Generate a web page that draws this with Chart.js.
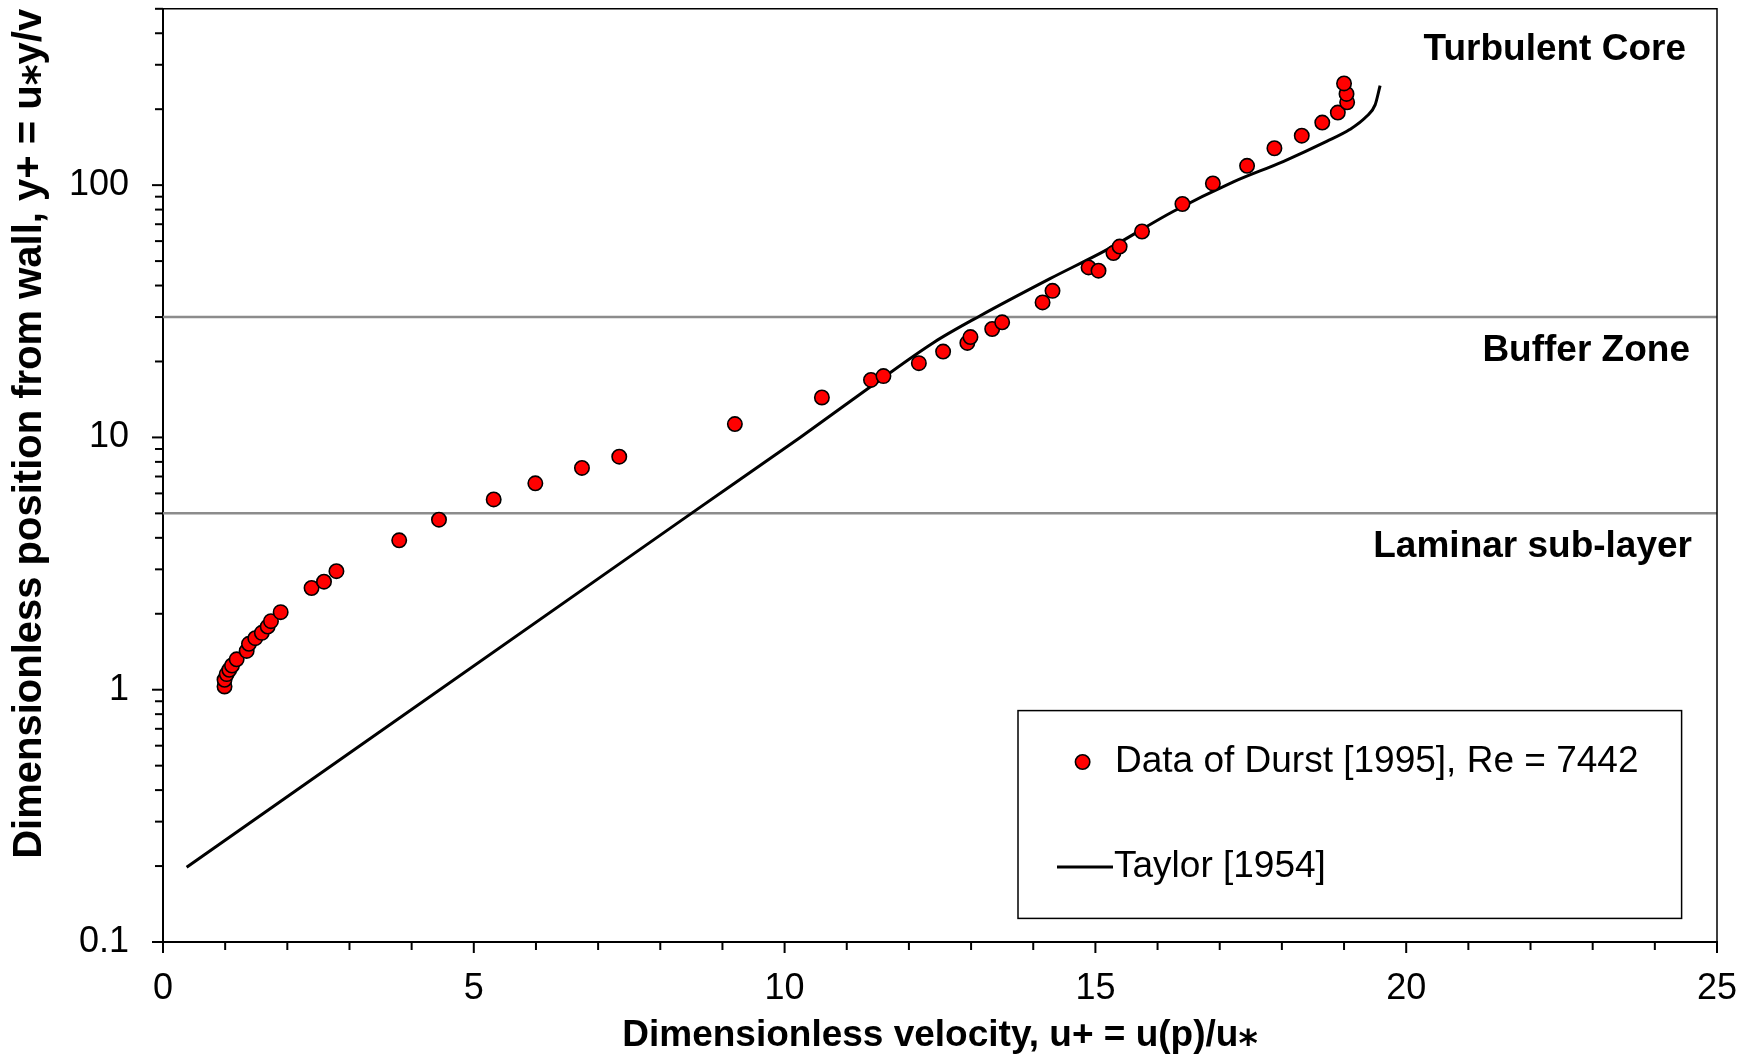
<!DOCTYPE html>
<html><head><meta charset="utf-8">
<script src="https://cdn.jsdelivr.net/npm/chart.js@4.4.1/dist/chart.umd.min.js"></script>
<style>html,body{margin:0;padding:0;background:#fff;}canvas{display:block;}</style>
</head><body>
<canvas id="c" width="1752" height="1058"></canvas>
<script>
// ---- data ----
const durstU = [0.99, 0.99, 1.025, 1.067, 1.11, 1.185, 1.346, 1.383, 1.485, 1.59, 1.684, 1.737, 1.893,
  2.39, 2.59, 2.79, 3.80, 4.44, 5.32, 5.99, 6.74, 7.34, 9.20, 10.60, 11.39, 11.59, 12.16, 12.55,
  12.94, 12.99, 13.34, 13.50, 14.15, 14.31, 14.89, 15.05, 15.29, 15.39, 15.75, 16.40, 16.89, 17.44,
  17.88, 18.32, 18.65, 18.90, 19.05, 19.04, 19.00];
const durstY = [1.03, 1.095, 1.153, 1.20, 1.247, 1.32, 1.425, 1.52, 1.60, 1.68, 1.78, 1.87, 2.03,
  2.53, 2.68, 2.95, 3.91, 4.72, 5.68, 6.58, 7.57, 8.39, 11.3, 14.4, 16.9, 17.5, 19.7, 21.9,
  23.7, 25.0, 26.9, 28.6, 34.3, 38.1, 47.2, 45.8, 53.8, 57.1, 65.5, 84.2, 101.6, 119.3,
  140, 157, 177, 194, 213, 230, 253];
const taylorU = [0.38, 8.5, 10.25, 11.37, 12.4, 13.14, 14.27, 15.18, 16.25, 17.22, 18.02, 18.72, 19.09, 19.36, 19.5, 19.58];
const taylorY = [0.198, 5.0, 10.0, 15.8, 23.8, 30.3, 42.6, 55.4, 78.6, 103, 124, 149, 166, 187, 208, 248];
const zoneBoundaries = [5, 30];
const zoneNames = ['Turbulent Core', 'Buffer Zone', 'Laminar sub-layer'];
const zoneLabelY = [344, 22.05, 3.67];
const xRange = [0, 25];
const yRange = [0.1, 500];
const xTickLabels = [0, 5, 10, 15, 20, 25];
const yTickLabels = [0.1, 1, 10, 100];
const seriesNames = ['Data of Durst [1995], Re = 7442', 'Taylor [1954]'];
const xTitle = 'Dimensionless velocity, u+ = u(p)/u\u204E';
const yTitle = 'Dimensionless position from wall, y+ = u\u204Ey/v';

const FONT = "'Liberation Sans', Arial, 'DejaVu Sans', sans-serif";
Chart.defaults.font.family = FONT;
Chart.defaults.color = '#000';

const durstPts = durstU.map((u, i) => ({x: u, y: durstY[i]}));
const taylorPts = taylorU.map((u, i) => ({x: u, y: taylorY[i]}));
const zoneSets = zoneBoundaries.map(b => ({
  type: 'line', label: 'zone ' + b,
  data: [{x: xRange[0], y: b}, {x: xRange[1], y: b}],
  borderColor: '#8c8c8c', borderWidth: 2.5, pointRadius: 0, showLine: true, order: 3
}));

function logTicks(min, max) {
  const out = [];
  for (let e = Math.floor(Math.log10(min)); Math.pow(10, e) <= max; e++) {
    for (let k = 1; k <= 9; k++) {
      const v = Number((k * Math.pow(10, e)).toPrecision(6));
      if (v >= min - 1e-12 && v <= max + 1e-9) out.push({value: v});
    }
  }
  return out;
}

const decorations = {
  id: 'decorations',
  afterDraw(chart) {
    const ctx = chart.ctx, ca = chart.chartArea;
    const xs = chart.scales.x, ys = chart.scales.y;
    ctx.save();
    // top and right frame
    ctx.strokeStyle = '#000';
    ctx.lineWidth = 1.5;
    ctx.beginPath();
    ctx.moveTo(ca.left, ca.top); ctx.lineTo(ca.right, ca.top); ctx.lineTo(ca.right, ca.bottom);
    ctx.stroke();
    // tick marks
    ctx.lineWidth = 2;
    xs.ticks.forEach(t => {
      const px = xs.getPixelForValue(t.value);
      const len = xTickLabels.includes(t.value) ? 11 : 8;
      ctx.beginPath(); ctx.moveTo(px, ca.bottom); ctx.lineTo(px, ca.bottom + len); ctx.stroke();
    });
    ys.ticks.forEach(t => {
      const py = ys.getPixelForValue(t.value);
      const len = yTickLabels.includes(t.value) ? 11 : 8;
      ctx.beginPath(); ctx.moveTo(ca.left - len, py); ctx.lineTo(ca.left, py); ctx.stroke();
    });
    // zone labels
    ctx.fillStyle = '#000';
    ctx.font = 'bold 37px ' + FONT;
    ctx.textAlign = 'right';
    ctx.textBaseline = 'middle';
    const rightOff = [31, 27, 25];
    zoneNames.forEach((n, i) => {
      ctx.fillText(n, ca.right - rightOff[i], ys.getPixelForValue(zoneLabelY[i]));
    });
    // legend box
    const bx = ca.right - 699, by = ca.bottom - 231.4, bw = 663.6, bh = 207.8;
    ctx.fillStyle = '#fff';
    ctx.fillRect(bx, by, bw, bh);
    ctx.strokeStyle = '#000';
    ctx.lineWidth = 1.5;
    ctx.strokeRect(bx, by, bw, bh);
    const d0 = chart.data.datasets[0], d1 = chart.data.datasets[1];
    ctx.beginPath();
    ctx.arc(bx + 64.6, by + 51.4, d0.pointRadius, 0, Math.PI * 2);
    ctx.fillStyle = d0.pointBackgroundColor; ctx.fill();
    ctx.lineWidth = d0.pointBorderWidth; ctx.strokeStyle = d0.pointBorderColor; ctx.stroke();
    ctx.beginPath();
    ctx.moveTo(bx + 39, by + 156.4); ctx.lineTo(bx + 95, by + 156.4);
    ctx.lineWidth = d1.borderWidth; ctx.strokeStyle = d1.borderColor; ctx.stroke();
    ctx.fillStyle = '#000';
    ctx.font = '37px ' + FONT;
    ctx.textAlign = 'left';
    ctx.fillText(d0.label, bx + 97, by + 51.4);
    ctx.fillText(d1.label, bx + 96, by + 156.4);
    ctx.restore();
  }
};

new Chart(document.getElementById('c'), {
  type: 'scatter',
  data: {
    datasets: [
      {
        label: seriesNames[0], data: durstPts, order: 1,
        pointRadius: 7.2, pointBorderWidth: 1.6,
        pointBackgroundColor: '#ff0000', pointBorderColor: '#000', showLine: false
      },
      {
        type: 'line', label: seriesNames[1], data: taylorPts, order: 2,
        borderColor: '#000', borderWidth: 3, pointRadius: 0, showLine: true,
        cubicInterpolationMode: 'monotone', fill: false
      },
      ...zoneSets
    ]
  },
  options: {
    responsive: false, animation: false, devicePixelRatio: 1,
    layout: {padding: {top: 7, right: 35, left: 0, bottom: 0}},
    plugins: {legend: {display: false}, tooltip: {enabled: false}},
    scales: {
      x: {
        type: 'linear', position: 'bottom', min: xRange[0], max: xRange[1],
        afterFit(s) { s.height = 116; s.paddingLeft = 0; s.paddingRight = 0; s.paddingTop = 0; s.paddingBottom = 0; },
        grid: {display: true, drawOnChartArea: false, drawTicks: false},
        border: {display: true, color: '#000', width: 2},
        ticks: {
          stepSize: 1, autoSkip: false, maxRotation: 0, padding: 25,
          font: {size: 36}, color: '#000',
          callback: v => xTickLabels.includes(v) ? String(v) : ''
        },
        title: {display: true, text: xTitle, color: '#000',
          font: {size: 37, weight: 'bold', lineHeight: 1}, padding: {top: 0, bottom: 3.5}}
      },
      y: {
        type: 'logarithmic', position: 'left', min: yRange[0], max: yRange[1],
        afterFit(s) { s.width = 163; s.paddingLeft = 0; s.paddingRight = 0; s.paddingTop = 0; s.paddingBottom = 0; },
        afterBuildTicks(s) { s.ticks = logTicks(yRange[0], yRange[1]); },
        grid: {display: true, drawOnChartArea: false, drawTicks: false},
        border: {display: true, color: '#000', width: 2},
        ticks: {
          autoSkip: false, padding: 34, font: {size: 36}, color: '#000',
          callback: v => yTickLabels.includes(v) ? String(v) : ''
        },
        title: {display: true, text: yTitle, color: '#000', align: 'end',
          font: {size: 40, weight: 'bold', lineHeight: 1}, padding: {top: 10, bottom: 0}}
      }
    }
  },
  plugins: [decorations]
});
</script>
</body></html>
